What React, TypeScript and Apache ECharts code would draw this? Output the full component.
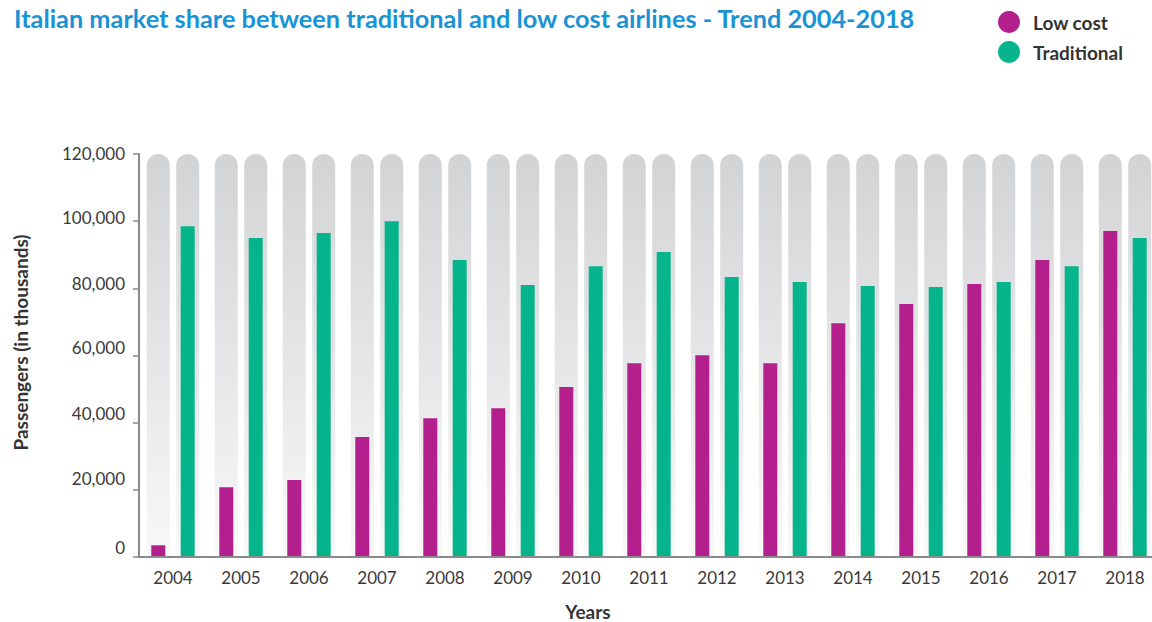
import React, { useEffect, useRef } from "react";
import * as echarts from "echarts";

const years = ["2004","2005","2006","2007","2008","2009","2010","2011","2012","2013","2014","2015","2016","2017","2018"];
const lowCost = [3500, 20800, 22900, 35700, 41300, 44300, 50600, 57700, 60100, 57700, 69600, 75300, 81300, 88400, 97100];
const traditional = [98500, 95000, 96500, 100000, 88400, 81000, 86600, 90800, 83400, 81900, 80700, 80400, 81900, 86600, 95000];
const trackMax = years.map(() => 120000);

const PURPLE = "#b41f8e";
const GREEN = "#06b48c";
const FONT = "Lato";

// vertical lift (px) of each y tick label in the reference, keyed by tick index
const labelLift = [10, 11, 9, 8, 5, 4, 1];

export default function App() {
  const ref = useRef<HTMLDivElement>(null);
  useEffect(() => {
    document.body.style.margin = "0";
    const chart = echarts.init(ref.current!, null, { renderer: "svg" });
    const pillStyle = {
      borderRadius: [12, 12, 0, 0],
      color: new echarts.graphic.LinearGradient(0, 0, 0, 1, [
        { offset: 0, color: "#d2d3d5" },
        { offset: 1, color: "#f8f8f9" },
      ]),
    };
    const rich: Record<string, any> = {};
    labelLift.forEach((l, i) => {
      rich["l" + i] = { color: "#3a3a3a", fontSize: 17, fontFamily: FONT, padding: [0, 0, l * 2, 0] };
    });
    chart.setOption({
      animation: false,
      textStyle: { fontFamily: FONT },
      title: {
        text: "Italian market share between traditional and low cost airlines - Trend 2004-2018",
        left: 9,
        top: 0,
        textStyle: { color: "#1a93d5", fontSize: 25.3, fontWeight: "bold", fontFamily: FONT },
      },
      legend: {
        orient: "vertical",
        left: 993,
        top: 6,
        icon: "circle",
        itemWidth: 22,
        itemHeight: 22,
        itemGap: 8,
        data: ["Low cost", "Traditional"],
        textStyle: { color: "#333", fontSize: 19, fontWeight: "bold", fontFamily: FONT, padding: [0, 0, 0, 8] },
      },
      grid: { left: 139, top: 154, width: 1020, height: 403, containLabel: false, outerBoundsMode: "none" },
      xAxis: [
        {
          type: "category",
          data: years,
          name: "Years",
          nameLocation: "middle",
          nameGap: 44,
          z: 5,
          nameTextStyle: { color: "#333", fontSize: 19, fontWeight: "bold", fontFamily: FONT, lineHeight: 20, padding: [0, 122, 0, 0] },
          axisLine: { show: true, lineStyle: { color: "#8a8a8a", width: 2 } },
          axisTick: { show: false },
          axisLabel: { color: "#3a3a3a", fontSize: 17, margin: 12, fontFamily: FONT },
        },
        {
          type: "category",
          data: years,
          show: false,
        },
      ],
      yAxis: {
        type: "value",
        min: 0,
        max: 120000,
        interval: 20000,
        name: "Passengers (in thousands)",
        nameLocation: "middle",
        nameGap: 109,
        z: 5,
        nameTextStyle: { color: "#333", fontSize: 19, fontWeight: "bold", fontFamily: FONT, padding: [0, 0, 0, 26] },
        axisLine: { show: true, lineStyle: { color: "#8a8a8a", width: 2 } },
        axisTick: { show: true, length: 6, lineStyle: { color: "#8a8a8a", width: 1.5 } },
        splitLine: { show: false },
        axisLabel: {
          color: "#3a3a3a",
          fontSize: 17,
          margin: 14,
          fontFamily: FONT,
          formatter: (v: number) => `{l${Math.round(v / 20000)}|${v.toLocaleString("en-US")}}`,
          rich,
        },
      },
      series: [
        {
          name: "trackA",
          type: "bar",
          xAxisIndex: 0,
          data: trackMax,
          barWidth: 23,
          barGap: "28%",
          itemStyle: pillStyle,
          silent: true,
          legendHoverLink: false,
        },
        {
          name: "trackB",
          type: "bar",
          xAxisIndex: 0,
          data: trackMax,
          barWidth: 23,
          barGap: "28%",
          itemStyle: pillStyle,
          silent: true,
          legendHoverLink: false,
        },
        {
          name: "Low cost",
          type: "bar",
          xAxisIndex: 1,
          data: lowCost,
          barWidth: 14,
          barGap: "110%",
          itemStyle: { color: PURPLE },
        },
        {
          name: "Traditional",
          type: "bar",
          xAxisIndex: 1,
          data: traditional,
          barWidth: 14,
          barGap: "110%",
          itemStyle: { color: GREEN },
        },
      ],
    });
    return () => chart.dispose();
  }, []);
  return <div ref={ref} style={{ width: 1152, height: 622 }} />;
}
